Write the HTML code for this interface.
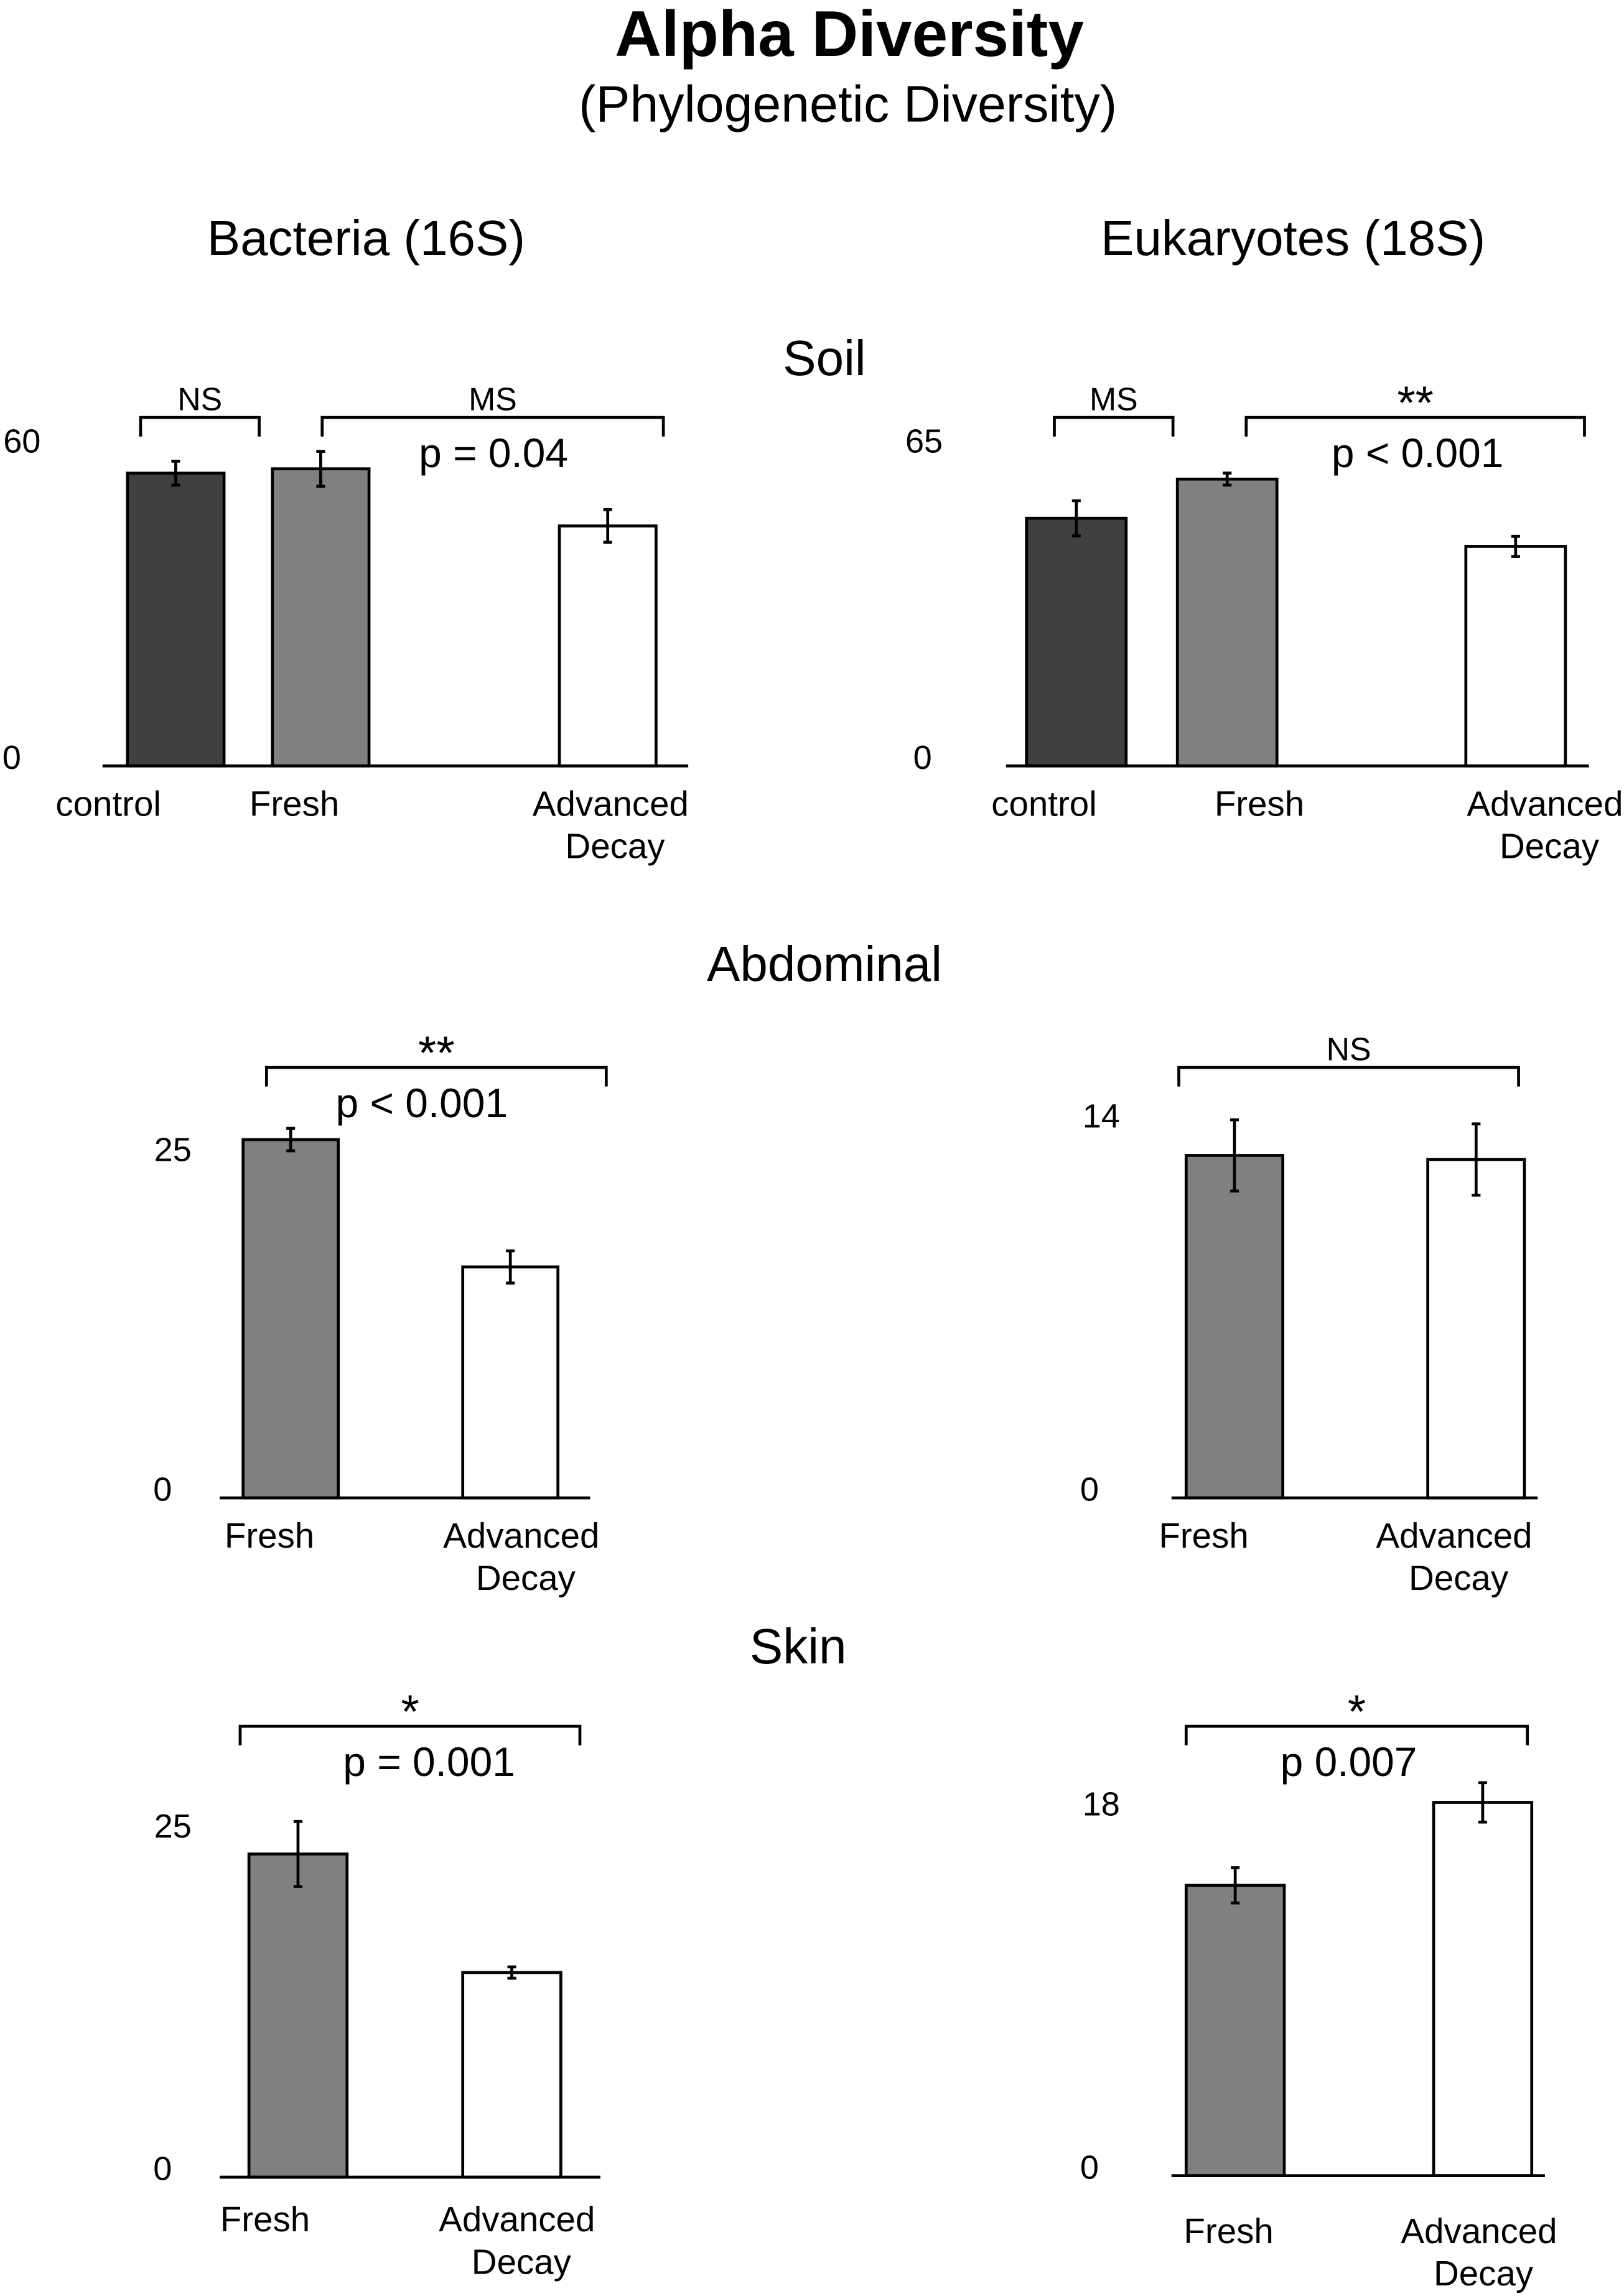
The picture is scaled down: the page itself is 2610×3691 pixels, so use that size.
<!DOCTYPE html>
<html><head><meta charset="utf-8">
<style>
html,body{margin:0;padding:0;background:#fff;}
svg{display:block;font-family:"Liberation Sans",sans-serif;}
</style></head>
<body>
<svg id="chart" width="2610" height="3691" viewBox="0 0 1109 1568" xmlns="http://www.w3.org/2000/svg">
<text x="580" y="38" font-size="44" font-weight="bold" text-anchor="middle">Alpha Diversity</text>
<text x="579" y="83" font-size="35" text-anchor="middle">(Phylogenetic Diversity)</text>
<text x="250" y="174" font-size="34" text-anchor="middle">Bacteria (16S)</text>
<text x="883" y="174" font-size="34" text-anchor="middle">Eukaryotes (18S)</text>
<text x="563" y="256" font-size="34" text-anchor="middle">Soil</text>
<text x="563" y="670" font-size="34" text-anchor="middle">Abdominal</text>
<text x="545" y="1136" font-size="34" text-anchor="middle">Skin</text>
</svg>
<script>
// Data
const soilCategories = ["control", "Fresh", "Advanced Decay"];
const skinAbdCategories = ["Fresh", "Advanced Decay"];
const bactSoilValues = [53.8, 54.6, 44.1];
const bactSoilErrors = [2.2, 3.2, 3.0];
const eukSoilValues = [49.3, 57.1, 43.7];
const eukSoilErrors = [3.5, 1.2, 2.0];
const bactAbdValues = [25.6, 16.5];
const bactAbdErrors = [0.8, 1.15];
const eukAbdValues = [12.5, 12.35];
const eukAbdErrors = [1.3, 1.3];
const bactSkinValues = [22.9, 14.5];
const bactSkinErrors = [2.3, 0.4];
const eukSkinValues = [14.0, 18.0];
const eukSkinErrors = [0.85, 0.95];
const yTickMax = [60, 65, 25, 14, 25, 18];

const svg = document.getElementById('chart');
const NS = 'http://www.w3.org/2000/svg';
function mk(tag, attrs, parent){
  const e = document.createElementNS(NS, tag);
  for (const k in attrs) e.setAttribute(k, attrs[k]);
  (parent||svg).appendChild(e);
  return e;
}
const fills = {"control":"#404040","Fresh":"#808080","Advanced Decay":"#ffffff"};

const panels = [
 {name:"bacteria-soil", cats:soilCategories, vals:bactSoilValues, errs:bactSoilErrors, tick:yTickMax[0], base:523, top:300, ax0:70, ax1:470,
  barX:[87,186,382], barW:66, tickX:[15,8], labX:[74,201,417],
  brackets:[{x0:96,x1:177,y:285,lab:"NS",sub:null},{x0:220,x1:453,y:285,lab:"MS",sub:"p = 0.04",sx:337}], labY:557},
 {name:"eukaryotes-soil", cats:soilCategories, vals:eukSoilValues, errs:eukSoilErrors, tick:yTickMax[1], base:523, top:300, ax0:687, ax1:1085,
  barX:[701,804,1001], barW:68, tickX:[631,630], labX:[713,860,1055],
  brackets:[{x0:720,x1:801,y:285,lab:"MS",sub:null},{x0:851,x1:1082,y:285,lab:"**",sub:"p < 0.001",sx:968}], labY:557},
 {name:"bacteria-abdominal", cats:skinAbdCategories, vals:bactAbdValues, errs:bactAbdErrors, tick:yTickMax[2], base:1023, top:784, ax0:150, ax1:403,
  barX:[166,316], barW:65, tickX:[118,111], labX:[184,356],
  brackets:[{x0:182,x1:414,y:729,lab:"**",sub:"p < 0.001",sx:288}], labY:1057},
 {name:"eukaryotes-abdominal", cats:skinAbdCategories, vals:eukAbdValues, errs:eukAbdErrors, tick:yTickMax[3], base:1023, top:761, ax0:800, ax1:1050,
  barX:[810,975], barW:66, tickX:[752,744], labX:[822,993],
  brackets:[{x0:805,x1:1037,y:729,lab:"NS",sub:null}], labY:1057},
 {name:"bacteria-skin", cats:skinAbdCategories, vals:bactSkinValues, errs:bactSkinErrors, tick:yTickMax[4], base:1487, top:1246, ax0:150, ax1:410,
  barX:[170,316], barW:67, tickX:[118,111], labX:[181,353],
  brackets:[{x0:164,x1:396,y:1179,lab:"*",sub:"p = 0.001",sx:293}], labY:1524},
 {name:"eukaryotes-skin", cats:skinAbdCategories, vals:eukSkinValues, errs:eukSkinErrors, tick:yTickMax[5], base:1486, top:1231, ax0:800, ax1:1055,
  barX:[810,979], barW:67, tickX:[752,744], labX:[839,1010],
  brackets:[{x0:810,x1:1043,y:1179,lab:"*",sub:"p 0.007",sx:921}], labY:1532}
];

panels.forEach(p => {
  const g = mk('g', {});
  
  
  const y = v => p.base - v / p.tick * (p.base - p.top);
  const t1 = mk('text', {x:p.tickX[0], y:y(p.tick)+9, 'font-size':23, 'text-anchor':'middle'}, g);
  t1.textContent = p.tick;
  
  
  const t0 = mk('text', {x:p.tickX[1], y:p.base+2, 'font-size':23, 'text-anchor':'middle'}, g);
  t0.textContent = '0';
  
  
  p.vals.forEach((v, i) => {
    const bx = p.barX[i], bw = p.barW;
    const r = mk('rect', {x:bx, y:y(v), width:bw, height:p.base - y(v), fill:fills[p.cats[i]], stroke:'#000', 'stroke-width':2}, g);
    
    
    const cx = bx + bw / 2, e = p.errs[i];
    const eb = mk('path', {d:`M${cx},${y(v+e)}V${y(v-e)}M${cx-3},${y(v+e)}H${cx+3}M${cx-3},${y(v-e)}H${cx+3}`, stroke:'#000', 'stroke-width':2, fill:'none'}, g);
    
    
  });
  const ax = mk('line', {x1:p.ax0, x2:p.ax1, y1:p.base, y2:p.base, stroke:'#000', 'stroke-width':2}, g);
  
  
  p.cats.forEach((c, i) => {
    const parts = c.split(' ');
    parts.forEach((w, j) => {
      const tx = mk('text', {x:p.labX[i] + (j ? 3 : 0), y:p.labY + j*29, 'font-size':24, 'text-anchor':'middle'}, g);
      tx.textContent = w;
      
      
    });
  });
  p.brackets.forEach(b => {
    const br = mk('path', {d:`M${b.x0},${b.y+13}V${b.y}H${b.x1}V${b.y+13}`, stroke:'#000', 'stroke-width':2, fill:'none'}, g);
    
    
    const mid = (b.x0 + b.x1) / 2;
    const star = b.lab.indexOf('*') >= 0;
    const lt = mk('text', {x:mid, y:star ? b.y + 1 : b.y-5, 'font-size':star ? 32 : 22, 'text-anchor':'middle'}, g);
    lt.textContent = b.lab;
    
    
    if (b.sub) {
      const st = mk('text', {x:b.sx, y:b.y + 34, 'font-size':28, 'text-anchor':'middle'}, g);
      st.textContent = b.sub;
      
      
    }
  });
});
</script>
</body></html>
